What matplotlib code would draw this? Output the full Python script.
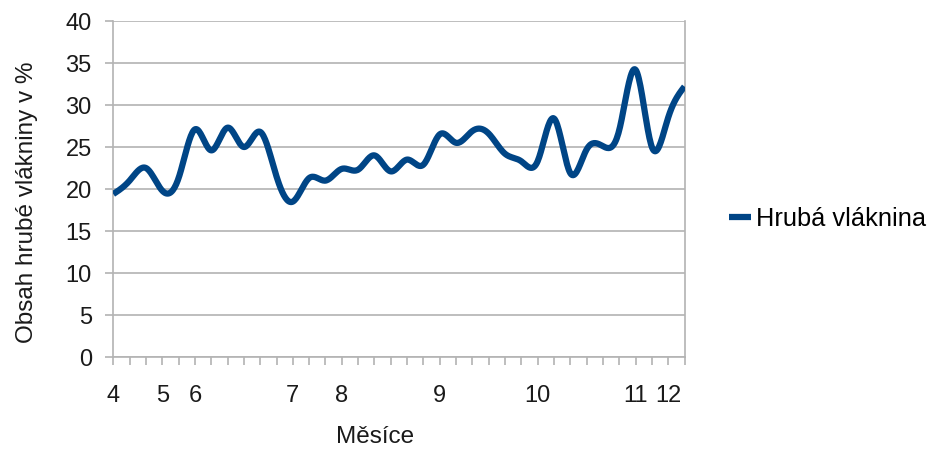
import numpy as np
import matplotlib

matplotlib.use('Agg')

from matplotlib import rcParams

rcParams['font.family'] = 'Liberation Sans'

import matplotlib.pyplot as plt

# one sample per tick on the category axis, month label on the first sample of each month
values = [19.4, 21.0, 22.5, 19.8, 21.3, 27.1, 24.6, 27.3, 25.0, 26.8,
          21.5, 18.5, 21.3, 21.0, 22.4, 22.3, 24.0, 22.1, 23.5, 22.9,
          26.5, 25.5, 26.9, 26.6, 24.2, 23.3, 23.3, 28.4, 21.9, 24.7,
          25.1, 27.0, 34.2, 25.0, 28.5, 32.2]
month_pos = [0, 3, 5, 11, 14, 20, 26, 32, 34]
month_labels = ['4', '5', '6', '7', '8', '9', '10', '11', '12']
series_name = 'Hrubá vláknina'
x_title = 'Měsíce'
y_title = 'Obsah hrubé vlákniny v %'

grey = '#b3b3b3'
blue = '#004586'


def natural_spline(y, steps=20):
    # natural cubic spline through equally spaced points (like the office chart smoothing)
    y = np.asarray(y, dtype=float)
    n = len(y)
    A = np.zeros((n, n))
    r = np.zeros(n)
    A[0, 0] = A[-1, -1] = 1
    for i in range(1, n - 1):
        A[i, i - 1], A[i, i], A[i, i + 1] = 1, 4, 1
        r[i] = 6 * (y[i - 1] - 2 * y[i] + y[i + 1])
    m = np.linalg.solve(A, r)
    xs, ys = [], []
    for i in range(n - 1):
        t = np.linspace(0, 1, steps, endpoint=(i == n - 2))
        a = y[i]
        b = y[i + 1] - y[i] - (2 * m[i] + m[i + 1]) / 6
        c = m[i] / 2
        d = (m[i + 1] - m[i]) / 6
        xs.append(i + t)
        ys.append(a + b * t + c * t ** 2 + d * t ** 3)
    return np.concatenate(xs), np.concatenate(ys)


fig = plt.figure(figsize=(9.3, 4.5), dpi=100)
ax = fig.add_axes([113.3 / 930, 1 - 357 / 450, (684.5 - 113.3) / 930, 336 / 450])

sx, sy = natural_spline(values)
ax.plot(sx, sy, color=blue, linewidth=4.5, solid_capstyle='butt', label=series_name, zorder=3)

ax.set_xlim(0, len(values) - 1)
ax.set_ylim(0, 40)
ax.set_yticks(range(0, 41, 5))

xlabels = [''] * len(values)
for p, l in zip(month_pos, month_labels):
    xlabels[p] = l
ax.set_xticks(range(len(values)))
ax.set_xticklabels(xlabels)

ax.yaxis.grid(True, color=grey, linewidth=1.2)
ax.set_axisbelow(True)
for s in ['left', 'bottom', 'right']:
    ax.spines[s].set_color(grey)
    ax.spines[s].set_linewidth(1.2)
ax.spines['top'].set_visible(False)

ax.tick_params(axis='both', colors=grey, labelcolor='#1a1a1a', labelsize=17,
               length=6, width=1.2, direction='out')
ax.tick_params(axis='x', pad=14)
ax.tick_params(axis='y', pad=9.5)

fig.text(375 / 930, 1 - 437 / 450, x_title, fontsize=17.5, color='#1a1a1a',
         ha='center', va='center')
fig.text(27 / 930, 1 - 202 / 450, y_title, fontsize=17.5, color='#1a1a1a',
         ha='center', va='center', rotation=90)

fig.legend(loc='center left', bbox_to_anchor=(729 / 930, 1 - 219 / 450),
           frameon=False, fontsize=18.3, handlelength=0.87, handletextpad=0.2,
           borderaxespad=0, borderpad=0)

plt.savefig('out.png', dpi=100)
